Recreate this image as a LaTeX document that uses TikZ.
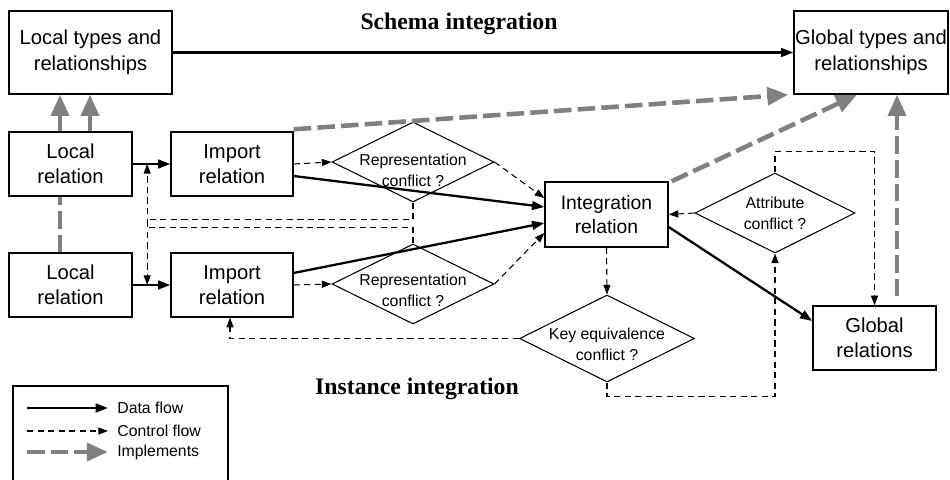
\documentclass[tikz,border=0pt]{standalone}
\usepackage{fontspec}
\setmainfont{Liberation Sans}
\newfontfamily\headfont{Liberation Serif}
\usetikzlibrary{shapes.geometric,arrows.meta,calc,backgrounds}
\definecolor{implgray}{RGB}{128,128,128}
\tikzset{
  box/.style={draw, line width=0.8pt, fill=white, inner sep=0pt, align=center,
    font=\fontsize{11.5}{14.5}\selectfont},
  dia/.style={draw, shape=diamond, line width=0.6pt, inner sep=0pt},
  dtext/.style={font=\fontsize{9}{12}\selectfont, align=center, inner sep=0pt},
  legtext/.style={font=\fontsize{9}{11}\selectfont, inner sep=0pt, anchor=west},
  dataflow/.style={line width=1.3pt, -{Triangle[length=7pt,width=5pt]}},
  ctrlflow/.style={line width=0.6pt, dash pattern=on 3.5pt off 2.5pt,
    -{Triangle[length=5.5pt,width=4pt]}},
  implements/.style={draw=implgray, line width=2.6pt, dash pattern=on 10pt off 3.5pt,
    -{Triangle[length=12pt,width=10pt,fill=implgray]}},
  heading/.style={font=\headfont\bfseries\fontsize{13.5}{16}\selectfont, inner sep=0pt, anchor=base},
}
\begin{document}
\begin{tikzpicture}[x=0.02cm, y=-0.02cm]
\useasboundingbox (0,0) rectangle (950,480);

% boxes
\node[box, minimum width=3.26cm, minimum height=1.66cm] (ltypes) at (90.5,52.5) {Local types and\\relationships};
\node[box, minimum width=3.08cm, minimum height=1.66cm] (gtypes) at (871,52.5) {Global types and\\relationships};
\node[box, minimum width=2.46cm, minimum height=1.28cm] (lrel1) at (70.5,164) {Local\\relation};
\node[box, minimum width=2.44cm, minimum height=1.28cm] (imp1) at (232,164) {Import\\relation};
\node[box, minimum width=2.46cm, minimum height=1.28cm] (lrel2) at (70.5,285) {Local\\relation};
\node[box, minimum width=2.44cm, minimum height=1.28cm] (imp2) at (232,285) {Import\\relation};
\node[box, minimum width=2.46cm, minimum height=1.30cm, font=\fontsize{11}{14}\selectfont] (integ) at (606.5,214.5) {Integration\\relation};
\node[box, minimum width=2.46cm, minimum height=1.28cm] (grel) at (874.5,338) {Global\\relations};

% decision diamonds
\node[dia, minimum width=3.24cm, minimum height=1.60cm] (d1) at (413,162) {};
\node[dtext] (d1t) at ($(d1)+(0,8)$) {Representation\\conflict ?};
\node[dia, minimum width=3.24cm, minimum height=1.60cm] (d2) at (413,284) {};
\node[dtext] (d2t) at ($(d2)+(0,6)$) {Representation\\conflict ?};
\node[dia, minimum width=3.20cm, minimum height=1.60cm] (dattr) at (775,213) {};
\node[dtext] (dattrt) at (dattr) {Attribute\\conflict ?};
\node[dia, minimum width=3.50cm, minimum height=1.74cm] (dkey) at (607,338.5) {};
\node[dtext] (dkeyt) at ($(dkey)+(0,6)$) {Key equivalence\\conflict ?};

% headings
\node[heading] (schema) at (459,30) {Schema integration};
\node[heading] (instance) at (417,394) {Instance integration};

% implements
\begin{scope}[on background layer]
  \coordinate (i1) at ($(lrel2.north)+(-10.5,0)$);
  \draw[implements] (i1) -- (i1 |- ltypes.south);
\end{scope}
\coordinate (i2) at ($(lrel1.north)+(19.5,0)$);
\draw[implements] (i2) -- (i2 |- ltypes.south);
\draw[implements] ($(imp1.north east)+(0,-2)$) -- ($(gtypes.south west)+(-5,0)$);
\draw[implements] ($(integ.north east)+(3,0)$) -- ($(gtypes.south)+(-14,0)$);
\coordinate (i3) at ($(grel.north)+(22.5,-9)$);
\draw[implements] (i3) -- (i3 |- gtypes.south);

% data flow
\draw[dataflow] (ltypes.east) -- (gtypes.west);
\draw[dataflow] (lrel1.east) -- (imp1.west);
\draw[dataflow] (lrel2.east) -- (imp2.west);
\draw[dataflow] ($(imp1.east)+(0,12)$) -- ($(integ.west)+(0,-7.5)$);
\draw[dataflow] ($(imp2.east)+(0,-12)$) -- ($(integ.west)+(0,8.5)$);
\draw[dataflow] ($(integ.east)+(0,12.5)$) -- ($(grel.west)+(0,-17)$);

% control flow
\draw[ctrlflow] (imp1.east) -- (d1.west);
\draw[ctrlflow] (imp2.east) -- (d2.west);
\draw[ctrlflow] (d1.east) -- ($(integ.west)+(0,-16.5)$);
\draw[ctrlflow] (d2.east) -- ($(integ.west)+(0,18.5)$);
\draw[ctrlflow] (d1.south) -- ++(0,17) -| ($(lrel2.east)!0.385!(imp2.west)$);
\draw[ctrlflow] (d2.north) -- ++(0,-16) -| ($(lrel1.east)!0.385!(imp1.west)$);
\draw[ctrlflow] (integ.south) -- (dkey.north);
\draw[ctrlflow] (dkey.west) -| ($(imp2.south)+(-2,0)$);
\draw[ctrlflow] (dkey.south) -- ++(0,14) -| (dattr.south);
\draw[ctrlflow] (dattr.west) -- (integ.east);
\draw[ctrlflow] (dattr.north) -- ++(0,-21) -| (grel.north);

% legend
\draw[line width=0.8pt] (13,480) -- (13,386) -- (228,386) -- (228,480);
\coordinate (lg1a) at (27,408); \coordinate (lg1b) at (108,408);
\draw[dataflow] (lg1a) -- (lg1b);
\node[legtext] (lg1t) at (117,408) {Data flow};
\coordinate (lg2a) at (27,431); \coordinate (lg2b) at (108,431);
\draw[ctrlflow] (lg2a) -- (lg2b);
\node[legtext] (lg2t) at (117,431) {Control flow};
\coordinate (lg3a) at (27,452); \coordinate (lg3b) at (108,452);
\draw[implements] (lg3a) -- (lg3b);
\node[legtext] (lg3t) at (117,452) {Implements};
\end{tikzpicture}
\end{document}
